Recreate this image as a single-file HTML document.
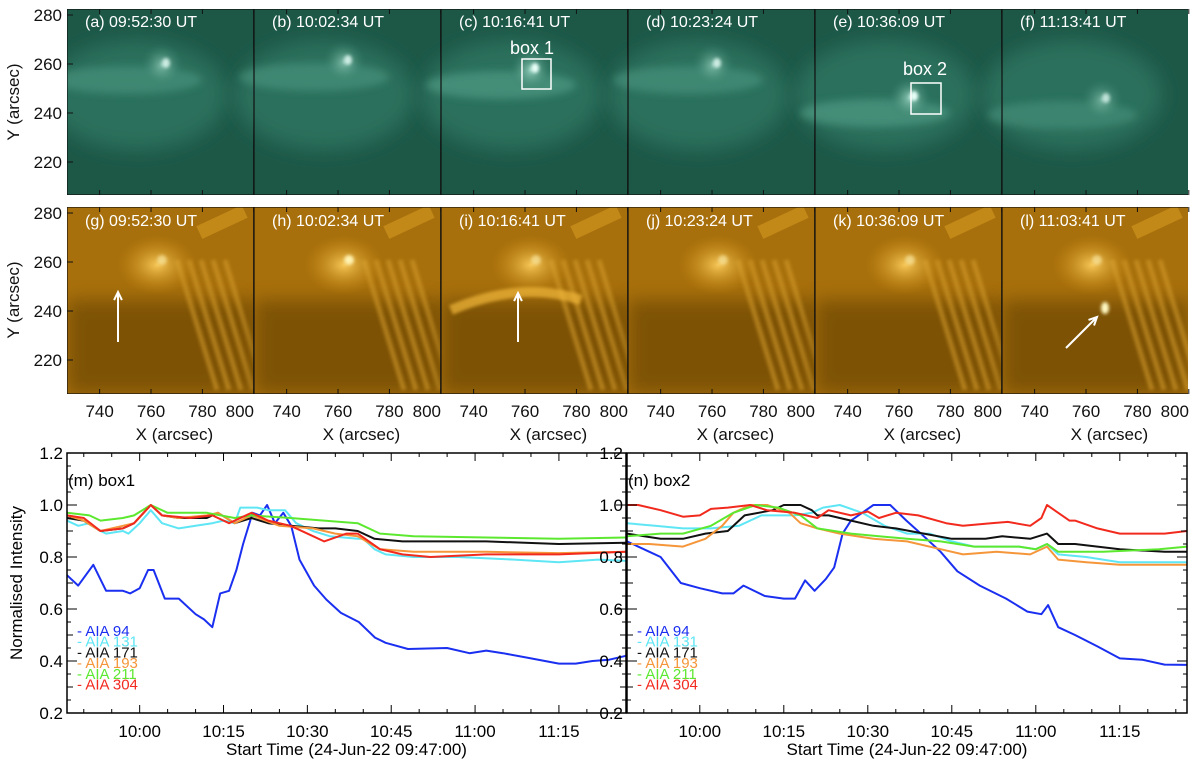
<!DOCTYPE html>
<html><head><meta charset="utf-8"><style>
html,body{margin:0;padding:0;background:#fff;width:1200px;height:768px;overflow:hidden}
svg{display:block;font-family:"Liberation Sans",Arial,sans-serif}
</style></head><body>
<svg id="fig" width="1200" height="768" viewBox="0 0 1200 768" xmlns="http://www.w3.org/2000/svg">
<defs>
<filter id="blur4" x="-50%" y="-50%" width="200%" height="200%"><feGaussianBlur stdDeviation="4"/></filter>
<filter id="blur2" x="-50%" y="-50%" width="200%" height="200%"><feGaussianBlur stdDeviation="1.6"/></filter>
<filter id="blur8" x="-50%" y="-50%" width="200%" height="200%"><feGaussianBlur stdDeviation="9"/></filter>
<radialGradient id="gg" cx="0.5" cy="0.5" r="0.5"><stop offset="0" stop-color="#9fd8c6" stop-opacity="0.9"/><stop offset="1" stop-color="#2f7a64" stop-opacity="0"/></radialGradient>
<radialGradient id="og" cx="0.5" cy="0.5" r="0.5"><stop offset="0" stop-color="#ffd060" stop-opacity="0.9"/><stop offset="1" stop-color="#c88a10" stop-opacity="0"/></radialGradient>
<clipPath id="clipTop"><rect x="67" y="9" width="1121" height="186"/></clipPath>
<clipPath id="clipBot"><rect x="67" y="207" width="1121" height="187"/></clipPath>
</defs>
<g id="images"></g>
<g id="charts"></g>
</svg>
<script>
// ===== Chart data (minutes after 09:47:00, normalised intensity) =====
const xTickLabels = ["10:00","10:15","10:30","10:45","11:00","11:15"];
const xTickMinutes = [13,28,43,58,73,88];
const yTickLabels = ["0.2","0.4","0.6","0.8","1.0","1.2"];
const yTickValues = [0.2,0.4,0.6,0.8,1.0,1.2];
const channels = ["AIA 94","AIA 131","AIA 171","AIA 193","AIA 211","AIA 304"];
const channelColors = ["#1a2ff0","#5ee6f5","#111111","#f5963a","#5de830","#f22a1e"];

const box1_t94 = [0,2,4.7,7,10,11.3,13,14.5,15.5,17.5,20,23,24.5,26,27.4,29,30.3,31.5,33.2,34.5,35.8,37.2,38.7,40.1,41.6,44.2,46.4,49,52.2,55.1,57,61,68,72,75,78,83,88,91,94,97,100];
const box1_v94 = [0.73,0.69,0.77,0.67,0.67,0.66,0.68,0.75,0.75,0.64,0.64,0.58,0.56,0.53,0.66,0.67,0.75,0.85,0.97,0.96,1.0,0.93,0.97,0.92,0.79,0.69,0.636,0.585,0.55,0.49,0.47,0.446,0.45,0.43,0.44,0.43,0.41,0.39,0.39,0.40,0.405,0.42];
const box1_t131 = [0,2,4,6,7,10,11,13,15,17,20,23,26,28,30,31,34,36,39,41,44,47,52,53,55,57,62,70,80,88,95,100];
const box1_v131 = [0.94,0.92,0.93,0.90,0.89,0.90,0.89,0.93,0.98,0.93,0.91,0.92,0.93,0.94,0.93,0.99,0.99,0.98,0.98,0.93,0.90,0.88,0.87,0.87,0.83,0.81,0.80,0.80,0.79,0.78,0.79,0.785];
const box1_t171 = [0,3,6,10,12,15,17,20,25,27,30,33,36,40,45,48,52,55,60,75,88,100];
const box1_v171 = [0.95,0.94,0.90,0.91,0.93,1.0,0.96,0.95,0.95,0.97,0.93,0.95,0.93,0.92,0.91,0.91,0.90,0.87,0.86,0.86,0.85,0.855];
const box1_t193 = [0,3,6,10,12,15,17,20,25,27,30,33,38,44,48,52,56,62,75,88,100];
const box1_v193 = [0.96,0.94,0.90,0.92,0.93,1.0,0.96,0.95,0.96,0.97,0.93,0.96,0.92,0.91,0.89,0.88,0.83,0.82,0.82,0.815,0.82];
const box1_t211 = [0,4,6,10,12,15,18,25,30,33,40,46,52,56,62,75,88,100];
const box1_v211 = [0.97,0.96,0.94,0.95,0.96,1.0,0.97,0.97,0.95,0.96,0.95,0.94,0.93,0.89,0.88,0.875,0.87,0.875];
const box1_t304 = [0,3,6,10,12,15,17,22,26,29,33,36,40,44,46,50,52,56,60,65,75,88,100];
const box1_v304 = [0.96,0.95,0.90,0.91,0.93,1.0,0.96,0.95,0.96,0.93,0.97,0.94,0.92,0.88,0.86,0.89,0.89,0.83,0.81,0.80,0.81,0.81,0.82];

const box2_t94 = [0,4,6,9.6,13,17,19,20.8,24.6,28,30,31.8,33.5,35.5,37,38.5,40,42,44,47,49.9,53,56,59,63,67.7,71.5,74,75.2,77,80,84,88,92,96,100];
const box2_v94 = [0.86,0.82,0.80,0.70,0.68,0.66,0.66,0.69,0.65,0.64,0.64,0.71,0.67,0.715,0.76,0.89,0.94,0.97,1.0,1.0,0.94,0.88,0.82,0.745,0.69,0.64,0.59,0.58,0.615,0.53,0.50,0.456,0.41,0.405,0.386,0.385];
const box2_t131 = [0,5,10,15,20,24,30,33,35,38,42,46,50,54,58,62,70,73,75,77,82,88,100];
const box2_v131 = [0.93,0.92,0.91,0.91,0.92,0.96,0.96,0.97,0.99,1.0,0.97,0.92,0.89,0.89,0.86,0.84,0.84,0.83,0.85,0.81,0.80,0.78,0.78];
const box2_t171 = [0,6,10,14,18,21,26,28,31,33,34,36,40,44,48,53,58,64,67,72,75,77,80,88,96,100];
const box2_v171 = [0.89,0.87,0.87,0.89,0.90,0.96,0.98,1.0,1.0,0.98,0.96,0.96,0.94,0.92,0.91,0.89,0.87,0.87,0.88,0.87,0.89,0.85,0.85,0.83,0.82,0.82];
const box2_t193 = [0,4,10,14,17,19,22,25,29,31,34,38,44,50,56,60,66,72,75,77,82,88,100];
const box2_v193 = [0.85,0.85,0.84,0.87,0.92,0.97,1.0,1.0,0.97,0.93,0.91,0.89,0.87,0.86,0.83,0.81,0.82,0.81,0.84,0.79,0.78,0.77,0.77];
const box2_t211 = [0,6,10,15,19,23,27,31,34,40,45,50,56,62,70,73,75,77,85,95,100];
const box2_v211 = [0.88,0.89,0.89,0.92,0.97,1.0,0.99,0.96,0.91,0.89,0.88,0.87,0.86,0.84,0.84,0.83,0.85,0.82,0.82,0.83,0.84];
const box2_t304 = [0,2,6,10,13,15,18,22,25,30,34,36,40,43,45,48,52,57,60,65,68,72,74,75,77,79,80,84,88,92,96,100];
const box2_v304 = [1.0,1.0,0.98,0.955,0.96,0.985,0.99,1.0,0.98,0.97,0.95,0.98,0.96,0.975,0.95,0.97,0.96,0.93,0.92,0.93,0.935,0.92,0.95,1.0,0.97,0.94,0.94,0.91,0.89,0.89,0.89,0.90];

const NS = "http://www.w3.org/2000/svg";
function mk(tag, attrs, parent){ const e=document.createElementNS(NS,tag); for(const k in attrs) e.setAttribute(k,attrs[k]); if(parent) parent.appendChild(e); return e; }

// ===== Image panels =====
const imgG = document.getElementById('images');
const panelX = [67,254,441,628,815,1002];
const PW = 186.8;
const topTitles = ["(a) 09:52:30 UT","(b) 10:02:34 UT","(c) 10:16:41 UT","(d) 10:23:24 UT","(e) 10:36:09 UT","(f) 11:13:41 UT"];
const botTitles = ["(g) 09:52:30 UT","(h) 10:02:34 UT","(i) 10:16:41 UT","(j) 10:23:24 UT","(k) 10:36:09 UT","(l) 11:03:41 UT"];
const topBright = [[95,55,0.8],[90,52,0.8],[90,60,1],[85,55,0.8],[95,88,1],[100,90,0.7]];

for(let i=0;i<6;i++){
  const x0=panelX[i];
  const gt = mk('g',{'clip-path':'url(#clipTop)'},imgG);
  
  
  mk('rect',{x:x0,y:9,width:PW,height:186,fill:'#1d5847'},gt);
  mk('ellipse',{cx:x0+70,cy:95,rx:90,ry:55,fill:'#2c705c',filter:'url(#blur8)'},gt);
  const b=topBright[i];
  mk('ellipse',{cx:x0+60,cy:b[1]+25,rx:75,ry:14,fill:'#4f9a83',opacity:0.7*b[2],filter:'url(#blur4)'},gt);
  mk('ellipse',{cx:x0+b[0],cy:b[1]+10,rx:22,ry:22,fill:'url(#gg)',opacity:b[2]},gt);
  mk('ellipse',{cx:x0+b[0]+4,cy:b[1]+8,rx:4,ry:5,fill:'#e8fff8',filter:'url(#blur2)',opacity:b[2]},gt);
  mk('rect',{x:x0,y:9,width:PW,height:186,fill:'none',stroke:'#111','stroke-width':1.2},gt);
  const tt=mk('text',{x:x0+18,y:27,fill:'#fff','font-size':16},gt); tt.textContent=topTitles[i];
  
  
  const gb = mk('g',{'clip-path':'url(#clipBot)'},imgG);
  
  
  mk('rect',{x:x0,y:207,width:PW,height:187,fill:'#a8700c'},gb);
  mk('rect',{x:x0,y:300,width:PW,height:94,fill:'#5a3a04',opacity:0.55,filter:'url(#blur8)'},gb);
  mk('rect',{x:x0+130,y:215,width:50,height:14,fill:'#c8901c',transform:'rotate(-25 '+(x0+155)+' 222)',opacity:0.8},gb);
  for(let k=0;k<5;k++) mk('line',{x1:x0+110+k*12,y1:260,x2:x0+150+k*12,y2:390,stroke:'#d19a2a','stroke-width':5,opacity:0.6,filter:'url(#blur2)'},gb);
  mk('ellipse',{cx:x0+90,cy:265,rx:40,ry:30,fill:'url(#og)'},gb);
  if(i===2){ mk('path',{d:`M${x0+10} 310 Q ${x0+80} 280 ${x0+140} 300`,stroke:'#f2b83a','stroke-width':10,fill:'none',opacity:0.7,filter:'url(#blur2)'},gb); }
  mk('ellipse',{cx:x0+95,cy:260,rx:5,ry:5,fill:'#fff2b0',filter:'url(#blur2)',opacity:i==1?1:0.6},gb);
  if(i===5) mk('ellipse',{cx:x0+103,cy:308,rx:4,ry:6,fill:'#fff8c0',filter:'url(#blur2)'},gb);
  mk('rect',{x:x0,y:207,width:PW,height:187,fill:'none',stroke:'#111','stroke-width':1.2},gb);
  const tb=mk('text',{x:x0+18,y:226,fill:'#fff','font-size':16},gb); tb.textContent=botTitles[i];
  
  
  const xl=[740,760,780,800];
  xl.forEach((v,j)=>{
    const px=x0+(v-727.3)/(800-727.3)*PW;
    [[9,195],[207,394]].forEach(r=>{
      mk('line',{x1:px,y1:r[1],x2:px,y2:r[1]-5,stroke:'#111','stroke-width':1},imgG);
      mk('line',{x1:px,y1:r[0],x2:px,y2:r[0]+5,stroke:'#111','stroke-width':1},imgG);
    });
    const t=mk('text',{x:Math.min(px,x0+PW-14),y:417,'font-size':17,'text-anchor':'middle',fill:'#111'},imgG); t.textContent=v;
    
    
  });
  const xt=mk('text',{x:x0+PW/2+14,y:440,'font-size':17,'text-anchor':'middle',fill:'#111'},imgG); xt.textContent="X (arcsec)";
  
  
}
[[9,0],[207,1]].forEach(r=>{
  [280,260,240,220].forEach(v=>{
    const py=r[0]+6+(280-v)/20*49;
    const t=mk('text',{x:62,y:py+6,'font-size':17,'text-anchor':'end',fill:'#111'},imgG); t.textContent=v;
    
    
    mk('line',{x1:67,y1:py,x2:73,y2:py,stroke:'#111'},imgG);
  });
  const yt=mk('text',{x:0,y:0,'font-size':17,'text-anchor':'middle',fill:'#111',transform:`translate(19 ${r[0]+93}) rotate(-90)`},imgG); yt.textContent="Y (arcsec)";
  
  
});
const bx1=mk('rect',{x:522,y:59,width:29,height:30,fill:'none',stroke:'#fff','stroke-width':1.5},imgG);
 
const bl1=mk('text',{x:532,y:54,fill:'#fff','font-size':18,'text-anchor':'middle'},imgG); bl1.textContent="box 1";
 
const bx2=mk('rect',{x:911,y:83,width:30,height:31,fill:'none',stroke:'#fff','stroke-width':1.5},imgG);
 
const bl2=mk('text',{x:925,y:75,fill:'#fff','font-size':18,'text-anchor':'middle'},imgG); bl2.textContent="box 2";
 
function arrow(x1,y1,x2,y2,name){
  const g=mk('g',{stroke:'#fff','stroke-width':2,fill:'none'},imgG);
   
  mk('line',{x1,y1,x2,y2},g);
  const a=Math.atan2(y2-y1,x2-x1), L=9;
  mk('polyline',{points:`${x2-L*Math.cos(a-0.45)},${y2-L*Math.sin(a-0.45)} ${x2},${y2} ${x2-L*Math.cos(a+0.45)},${y2-L*Math.sin(a+0.45)}`},g);
}
arrow(118,342,118,292,'arrow-g');
arrow(518,342,518,293,'arrow-i');
arrow(1066,348,1097,317,'arrow-l');

// ===== Light curve charts =====
const cg=document.getElementById('charts');
const Y0=453, Y1=713;
function yScale(v){ return Y1-(v-0.2)/1.0*(Y1-Y0); }
function makeChart(left,right,label,series,name){
  const g=mk('g',{},cg);
   
  const xS=t=>left+t/100*(right-left);
  series.forEach((s,i)=>{
    const d=s[0].map((t,j)=>(j?'L':'M')+xS(t).toFixed(1)+' '+yScale(s[1][j]).toFixed(1)).join(' ');
    const p=mk('path',{d,stroke:channelColors[i],'stroke-width':2,fill:'none','stroke-linejoin':'round'},g);
    
    
  });
  mk('rect',{x:left,y:Y0,width:right-left,height:Y1-Y0,fill:'none',stroke:'#000','stroke-width':1.5},g);
  for(let k=0;k<=20;k++){
    const v=0.2+k*0.05, py=yScale(v);
    const L = (k%4===0)?10:(k%2===0?6:4);
    mk('line',{x1:left,y1:py,x2:left+L,y2:py,stroke:'#000'},g);
    mk('line',{x1:right,y1:py,x2:right-L,y2:py,stroke:'#000'},g);
  }
  yTickValues.forEach((v,j)=>{
    const t=mk('text',{x:left-4,y:yScale(v)+6,'font-size':17,'text-anchor':'end',fill:'#000'},g); t.textContent=yTickLabels[j];
     
  });
  for(let mm=3;mm<=100;mm+=5){
    const px=xS(mm); const maj=((mm-13)%15===0);
    mk('line',{x1:px,y1:Y1,x2:px,y2:Y1-(maj?8:4),stroke:'#000'},g);
    mk('line',{x1:px,y1:Y0,x2:px,y2:Y0+(maj?8:4),stroke:'#000'},g);
  }
  xTickMinutes.forEach((m,j)=>{
    const t=mk('text',{x:xS(m),y:737,'font-size':17,'text-anchor':'middle',fill:'#000'},g); t.textContent=xTickLabels[j];
     
  });
  const xt=mk('text',{x:(left+right)/2,y:755,'font-size':17,'text-anchor':'middle',fill:'#000'},g); xt.textContent="Start Time (24-Jun-22 09:47:00)";
   
  const pl=mk('text',{x:left+1,y:486,'font-size':17,fill:'#000'},g); pl.textContent=label;
   
  channels.forEach((c,i)=>{
    const t=mk('text',{x:left+10,y:636+i*10.7,'font-size':15,fill:channelColors[i]},g); t.textContent="- "+c;
     
  });
}
makeChart(67,626,"(m) box1",[[box1_t94,box1_v94],[box1_t131,box1_v131],[box1_t171,box1_v171],[box1_t193,box1_v193],[box1_t211,box1_v211],[box1_t304,box1_v304]],'box1-light-curve');
makeChart(627,1187,"(n) box2",[[box2_t94,box2_v94],[box2_t131,box2_v131],[box2_t171,box2_v171],[box2_t193,box2_v193],[box2_t211,box2_v211],[box2_t304,box2_v304]],'box2-light-curve');
const yt=mk('text',{x:0,y:0,'font-size':17,'text-anchor':'middle',fill:'#000',transform:'translate(22 583) rotate(-90)'},cg); yt.textContent="Normalised Intensity";
 
</script>
</body></html>
